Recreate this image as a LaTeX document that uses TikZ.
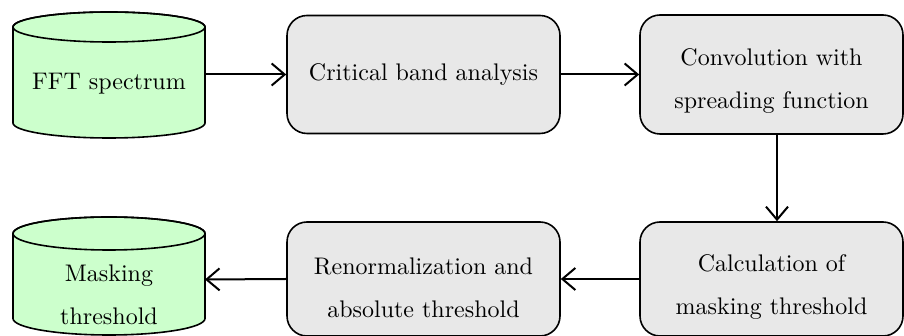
\documentclass[tikz,border=0pt]{standalone}
\usepackage{fontspec}
\setmainfont{lmroman10-regular.otf}
\usetikzlibrary{arrows.meta}
\definecolor{cylgreen}{RGB}{204,255,204}
\definecolor{boxgray}{RGB}{232,232,232}
\tikzset{
  proc/.style={draw=black, line width=1.6pt, fill=boxgray, rounded corners=20pt,
    minimum width=273pt, minimum height=118pt, inner sep=0pt},
  lbl/.style={align=center, font=\fontsize{24}{43}\selectfont, inner sep=0pt},
  flow/.style={line width=2pt, -{Straight Barb[length=13pt,width=22pt,line width=2pt]}},
  cylfill/.style={fill=cylgreen, draw=black, line width=1.6pt},
  cylrim/.style={draw=black, line width=1.6pt},
}
\begin{document}
\begin{tikzpicture}[x=1pt,y=1pt]
\useasboundingbox (0,0) rectangle (904,336);
\clip (0,0) rectangle (904,336);

% cylinder 1
\path[cylfill] (13,309) -- (13,213)
  arc[start angle=180, end angle=360, x radius=96, y radius=15]
  -- (205,309)
  arc[start angle=0, end angle=180, x radius=96, y radius=15] -- cycle;
\draw[cylrim] (109,309) ellipse[x radius=96, y radius=15];
\node[lbl] (fft) at (109,252) {FFT spectrum};
\coordinate (fftR) at (205,261.5);

% cylinder 2
\path[cylfill] (13,102.5) -- (13,17.5)
  arc[start angle=180, end angle=360, x radius=96, y radius=16.5]
  -- (205,102.5)
  arc[start angle=0, end angle=180, x radius=96, y radius=16.5] -- cycle;
\draw[cylrim] (109,102.5) ellipse[x radius=96, y radius=16.5];
\node[lbl] (mask) at (109,41) {Masking\\threshold};
\coordinate (maskR) at (205,56.5);

% process boxes
\node[proc] (crit) at (423.5,261.5) {};
\node[lbl] (critt) at (423.5,261) {Critical band analysis};
\node[proc, minimum width=263pt, minimum height=119pt] (conv) at (771.5,261.5) {};
\node[lbl] (convt) at (771.5,255) {Convolution with\\spreading function};
\node[proc, minimum height=114pt] (renorm) at (423.5,57) {};
\node[lbl] (renormt) at (423.5,48.5) {Renormalization and\\absolute threshold};
\node[proc, minimum width=263pt, minimum height=114pt] (calc) at (771.5,57) {};
\node[lbl] (calct) at (771.5,48.5) {Calculation of\\masking threshold};

% connectors
\draw[flow] (fftR) -- (crit.west);
\draw[flow] (crit.east) -- (conv.west);
\draw[flow] ([xshift=5.5pt]conv.south) -- ([xshift=5.5pt]calc.north);
\draw[flow] (calc.west) -- (renorm.east);
\draw[flow] (renorm.west) -- (maskR);
\end{tikzpicture}
\end{document}
